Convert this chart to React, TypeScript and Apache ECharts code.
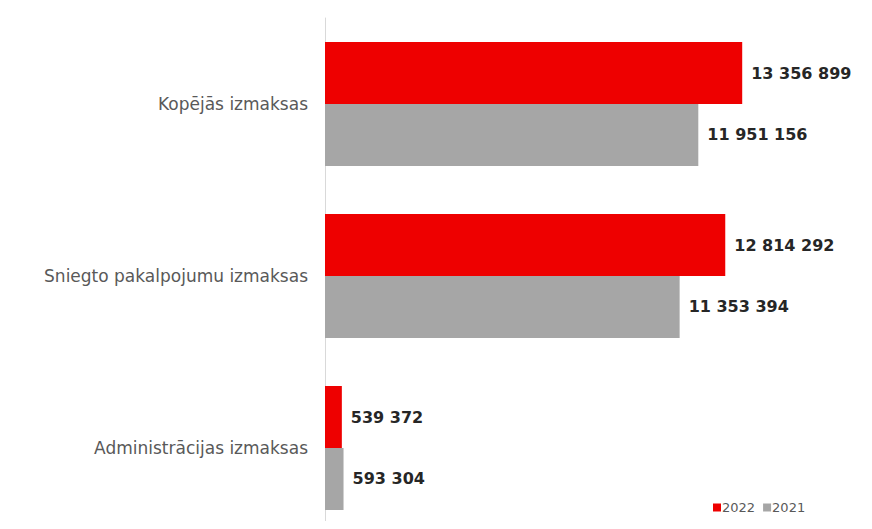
import React, { useEffect, useRef } from "react";
import * as echarts from "echarts";

const categories = ["Kopējās izmaksas", "Sniegto pakalpojumu izmaksas", "Administrācijas izmaksas"];
const values2022 = [13356899, 12814292, 539372];
const values2021 = [11951156, 11353394, 593304];
const seriesNames = ["2022", "2021"];

const fmt = (v: number) => String(v).replace(/\B(?=(\d{3})+(?!\d))/g, " ");

export default function App() {
  const ref = useRef<HTMLDivElement>(null);
  useEffect(() => {
    if (!ref.current) return;
    const chart = echarts.init(ref.current, undefined, { renderer: "svg" });
    const label = {
      show: true,
      position: "right" as const,
      distance: 9,
      formatter: (p: any) => fmt(p.value),
      fontFamily: "DejaVu Sans",
      fontWeight: "bold" as const,
      fontSize: 16,
      color: "#262626",
    };
    chart.setOption({
      animation: false,
      backgroundColor: "#ffffff",
      grid: { left: 325, top: 18, height: 516, width: 531 },
      legend: {
        left: 708,
        top: 496,
        itemWidth: 8,
        itemHeight: 8,
        itemGap: 8,
        icon: "rect",
        textStyle: { fontFamily: "DejaVu Sans", fontSize: 13, color: "#595959", padding: [0, 0, 0, -4] },
        data: seriesNames,
      },
      xAxis: {
        type: "value",
        min: 0,
        max: 17000000,
        show: false,
        splitLine: { show: false },
      },
      yAxis: {
        type: "category",
        inverse: true,
        data: categories,
        axisLine: { show: true, lineStyle: { color: "#d9d9d9", width: 1 } },
        axisTick: { show: false },
        axisLabel: {
          margin: 17,
          fontFamily: "DejaVu Sans",
          fontSize: 17,
          color: "#595959",
        },
      },
      series: [
        {
          name: seriesNames[0],
          type: "bar",
          data: values2022,
          barGap: "0%",
          barCategoryGap: "28%",
          itemStyle: { color: "#EE0000" },
          label,
        },
        {
          name: seriesNames[1],
          type: "bar",
          data: values2021,
          barGap: "0%",
          barCategoryGap: "28%",
          itemStyle: { color: "#A6A6A6" },
          label,
        },
      ],
    });
    return () => chart.dispose();
  }, []);
  return (
    <div style={{ width: 872, height: 529, margin: -8, overflow: "hidden" }}>
      <div ref={ref} style={{ width: 872, height: 545 }} />
    </div>
  );
}
